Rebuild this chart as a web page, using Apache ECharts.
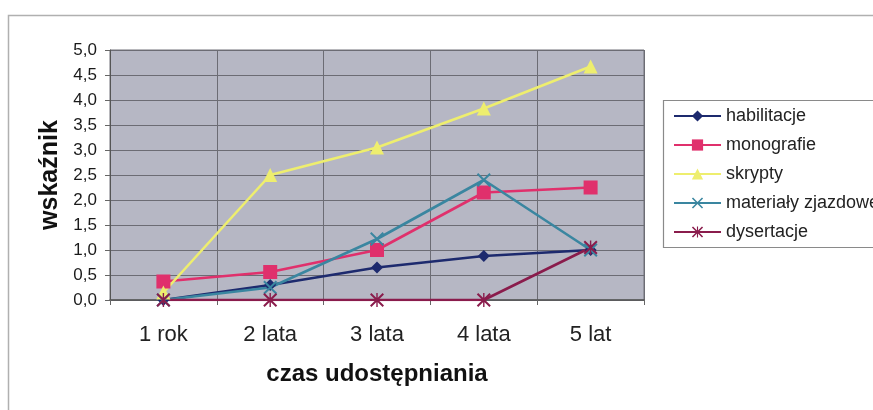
<!DOCTYPE html>
<html>
<head>
<meta charset="utf-8">
<script src="https://cdn.jsdelivr.net/npm/echarts@6/dist/echarts.min.js"></script>
<style>
  html, body { margin: 0; padding: 0; background: #ffffff; }
  #chart { width: 873px; height: 410px; }
</style>
</head>
<body>
<div id="chart"></div>
<script>
// Categories (time the material is made available) and the index per group
const categories = ['1 rok', '2 lata', '3 lata', '4 lata', '5 lat'];
const habilitacje = [0.0, 0.30, 0.65, 0.88, 1.0];
const monografie = [0.37, 0.56, 1.0, 2.15, 2.25];
const skrypty = [0.15, 2.5, 3.05, 3.83, 4.67];
const materialyZjazdowe = [0.0, 0.25, 1.22, 2.4, 1.0];
const dysertacje = [0.0, 0.0, 0.0, 0.0, 1.05];
const yTicks = { min: 0, max: 5, step: 0.5 };

const FONT = '"Liberation Sans", Arial, sans-serif';
const xMark = 'path://M0,2 L2,0 L10,8 L18,0 L20,2 L12,10 L20,18 L18,20 L10,12 L2,20 L0,18 L8,10 Z';
const starMark = 'path://M0,2 L2,0 L10,8 L18,0 L20,2 L12,10 L20,18 L18,20 L10,12 L2,20 L0,18 L8,10 Z M9,0 L11,0 L11,20 L9,20 Z';

function lineSeries(name, data, color, symbol, size) {
  return {
    name: name,
    type: 'line',
    data: data,
    symbol: symbol,
    symbolSize: size,
    showSymbol: true,
    lineStyle: { color: color, width: 2.6 },
    itemStyle: { color: color },
    emphasis: { disabled: true },
    animation: false
  };
}

const chart = echarts.init(document.getElementById('chart'), null, { renderer: 'canvas' });
chart.setOption({
  animation: false,
  backgroundColor: '#ffffff',
  graphic: [
    { type: 'rect', shape: { x: 8.5, y: 15.5, width: 900, height: 420 },
      style: { fill: 'none', stroke: '#b0b0b0', lineWidth: 1.5 }, z: -1 },
    { type: 'rect', shape: { x: 663.5, y: 100.5, width: 260, height: 147 },
      style: { fill: '#ffffff', stroke: '#8a8a8a', lineWidth: 1.2 }, z: 0 }
  ],
  grid: {
    left: 110, top: 50, right: 229, bottom: 110,
    show: true, backgroundColor: '#b6b7c4', borderColor: '#707078', borderWidth: 1
  },
  legend: {
    orient: 'vertical',
    left: 668, top: 102,
    itemWidth: 47, itemHeight: 14, itemGap: 11,
    textStyle: { fontFamily: FONT, fontSize: 18, color: '#222' },
    data: ['habilitacje', 'monografie', 'skrypty', 'materiały zjazdowe', 'dysertacje'],
    z: 5
  },
  xAxis: {
    type: 'category',
    data: categories,
    boundaryGap: true,
    axisLine: { lineStyle: { color: '#555', width: 1.5 } },
    axisTick: { show: true, length: 5, lineStyle: { color: '#666' } },
    axisLabel: { fontFamily: FONT, fontSize: 22, color: '#222', margin: 24 },
    splitLine: { show: true, lineStyle: { color: '#6c6c74', width: 1 } },
    name: 'czas udostępniania',
    nameLocation: 'middle',
    nameGap: 62,
    nameTextStyle: { fontFamily: FONT, fontSize: 24, fontWeight: 'bold', color: '#111' }
  },
  yAxis: {
    type: 'value',
    min: yTicks.min, max: yTicks.max, interval: yTicks.step,
    axisLine: { show: true, lineStyle: { color: '#555', width: 1 } },
    axisTick: { show: true, length: 5, lineStyle: { color: '#666' } },
    axisLabel: {
      fontFamily: FONT, fontSize: 17, color: '#1a1a1a', margin: 13,
      formatter: v => v.toFixed(1).replace('.', ',')
    },
    splitLine: { show: true, lineStyle: { color: '#6c6c74', width: 1 } },
    name: 'wskaźnik',
    nameLocation: 'middle',
    nameGap: 45,
    nameRotate: 90,
    nameTextStyle: { fontFamily: FONT, fontSize: 25, fontWeight: 'bold', color: '#111' }
  },
  series: [
    lineSeries('habilitacje', habilitacje, '#1d2a6e', 'diamond', 12),
    lineSeries('monografie', monografie, '#e0306c', 'rect', 14),
    lineSeries('skrypty', skrypty, '#eeee6e', 'triangle', 14),
    lineSeries('materiały zjazdowe', materialyZjazdowe, '#3a86a0', xMark, 14),
    lineSeries('dysertacje', dysertacje, '#8a1c4c', starMark, 14)
  ]
});
</script>
</body>
</html>
